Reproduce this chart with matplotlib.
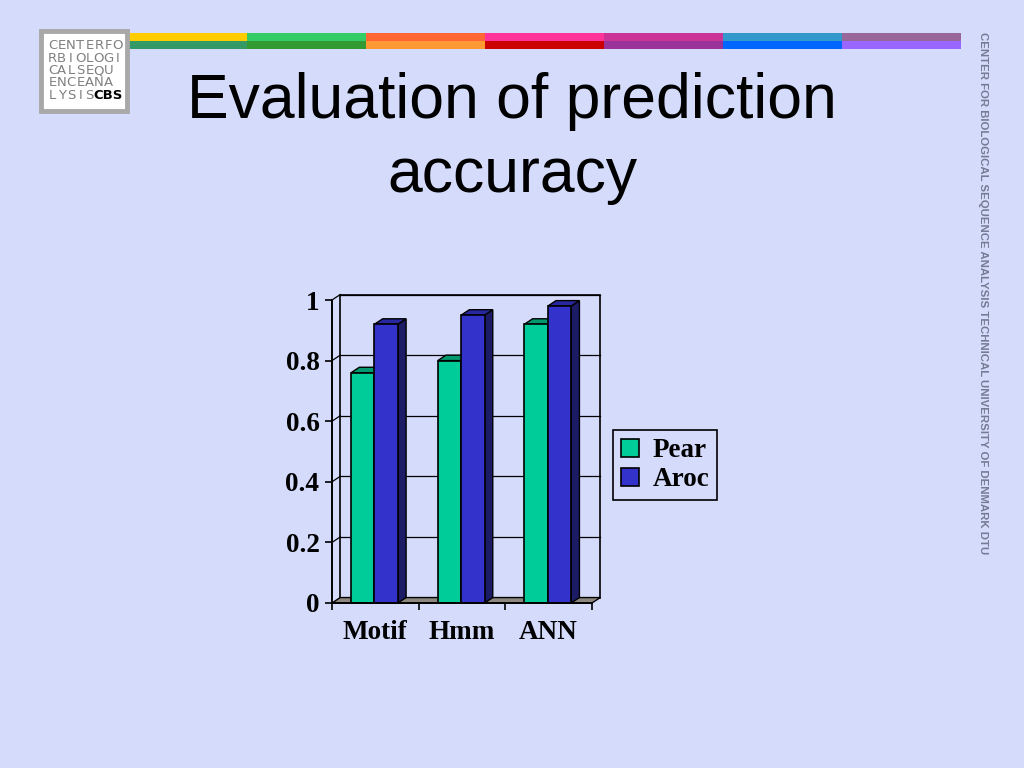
import matplotlib
matplotlib.use("Agg")
import matplotlib.pyplot as plt
from matplotlib.patches import Rectangle, Polygon, Patch

# ---- data ----
categories = ["Motif", "Hmm", "ANN"]
pear = [0.76, 0.80, 0.92]
aroc = [0.92, 0.95, 0.98]
series_names = ["Pear", "Aroc"]
yticks = [0, 0.2, 0.4, 0.6, 0.8, 1]
ytick_labels = ["0", "0.2", "0.4", "0.6", "0.8", "1"]
title_lines = ["Evaluation of prediction", "accuracy"]
side_text = "CENTER FOR BIOLOGICAL SEQUENCE ANALYSIS TECHNICAL UNIVERSITY OF DENMARK DTU"
logo_lines = ["CENTERFO", "RBIOLOGI", "CALSEQU", "ENCEANA", "LYSIS"]
stripe_top = ["#FFCC00", "#33CC66", "#FF6633", "#FF3399", "#CC3399", "#3399CC", "#996699"]
stripe_bot = ["#339966", "#339933", "#FF9933", "#CC0000", "#993399", "#0066FF", "#9966FF"]

BG = "#D5DBFB"
W, H = 1024, 768
fig = plt.figure(figsize=(W / 100, H / 100), dpi=100, facecolor=BG)

# background/decoration axes in pixel coordinates
bg = fig.add_axes([0, 0, 1, 1])
bg.set_xlim(0, W)
bg.set_ylim(H, 0)
bg.axis("off")

# colour stripes
x0, seg = 128, 119
for i, (ct, cb) in enumerate(zip(stripe_top, stripe_bot)):
    bg.add_patch(Rectangle((x0 + i * seg, 33), seg, 7.5, facecolor=ct, edgecolor="none"))
    bg.add_patch(Rectangle((x0 + i * seg, 40.5), seg, 8, facecolor=cb, edgecolor="none"))

# logo
bg.add_patch(Rectangle((41, 31), 86, 80, facecolor="white", edgecolor="#A8A8A8", lw=3.5))
ys = [45.5, 58, 70.5, 83, 95.5]
for line, yy in zip(logo_lines, ys):
    for k, ch in enumerate(line):
        bg.text(52.5 + k * 9.3, yy, ch, fontsize=9.5, family="DejaVu Sans", color="#808080",
                va="center", ha="center")
bg.text(108, 95.5, "CBS", fontsize=9.5, family="DejaVu Sans", weight="bold", color="black",
        va="center", ha="center")

# title
bg.text(512, 118, title_lines[0], fontsize=45, family="Liberation Sans", color="black",
        ha="center", va="baseline")
bg.text(512, 192, title_lines[1], fontsize=45, family="Liberation Sans", color="black",
        ha="center", va="baseline")

# side text
bg.text(983, 32, side_text, fontsize=8.2, family="Liberation Sans", weight="bold",
        color="#767B94", rotation=-90, ha="center", va="top")

# ---- chart axes ----
ax = fig.add_axes([332 / W, 1 - 603 / H, 260 / W, 303 / H])
ax.set_xlim(0, 3)
ax.set_ylim(0, 1)
ax.patch.set_alpha(0)
for s in ax.spines.values():
    s.set_visible(False)

dx, dy = 0.095, 0.018
n = len(categories)

# back wall
ax.add_patch(Rectangle((dx, dy), n, 1, facecolor=BG, edgecolor="black", lw=1.2,
                       clip_on=False, zorder=1))
# gridlines on back wall + left wall diagonals
for v in yticks[1:]:
    ax.plot([dx, n + dx], [v + dy, v + dy], color="black", lw=0.9, clip_on=False, zorder=1.5)
    ax.plot([0, dx], [v, v + dy], color="black", lw=0.9, clip_on=False, zorder=1.5)
# floor
ax.add_patch(Polygon([(0, 0), (n, 0), (n + dx, dy), (dx, dy)], closed=True,
                     facecolor="#8C8880", edgecolor="black", lw=1.0, clip_on=False, zorder=2))
# front axes lines
ax.plot([0, 0], [0, 1], color="black", lw=1.4, clip_on=False, zorder=6)
ax.plot([0, n], [0, 0], color="black", lw=1.4, clip_on=False, zorder=6)

bw = 0.27
colors = {"Pear": ("#00CC99", "#009970", "#006B50"), "Aroc": ("#3333CC", "#2727A0", "#1C1C66")}
for i in range(n):
    for name, vals, off in (("Pear", pear, 0.22), ("Aroc", aroc, 0.49)):
        v = vals[i]
        front, top, side = colors[name]
        xl = i + off
        xr = xl + bw
        ax.add_patch(Polygon([(xr, 0), (xr + dx, dy), (xr + dx, v + dy), (xr, v)], closed=True,
                             facecolor=side, edgecolor="black", lw=1.0, clip_on=False, zorder=3 + i * 0.1 + off))
        ax.add_patch(Polygon([(xl, v), (xl + dx, v + dy), (xr + dx, v + dy), (xr, v)], closed=True,
                             facecolor=top, edgecolor="black", lw=1.0, clip_on=False, zorder=3 + i * 0.1 + off))
        ax.bar([xl], [v], width=bw, align="edge", color=front, edgecolor="black", lw=1.2,
               zorder=3.01 + i * 0.1 + off, clip_on=False)

# ticks
FS = 19.5
ax.set_yticks(yticks)
ax.set_yticklabels(ytick_labels, fontsize=FS, family="Liberation Serif", weight="bold")
ax.tick_params(axis="y", direction="out", length=5, width=1.2, pad=4)
ax.set_xticks(range(n + 1))
ax.set_xticklabels([""] * (n + 1))
ax.tick_params(axis="x", which="major", direction="out", length=5, width=1.2)
ax.set_xticks([i + 0.5 for i in range(n)], minor=True)
ax.set_xticklabels(categories, minor=True, fontsize=FS, family="Liberation Serif", weight="bold")
ax.tick_params(axis="x", which="minor", length=0, pad=12)

# legend
handles = [Patch(facecolor=colors[nm][0], edgecolor="black", lw=1.2) for nm in series_names]
leg = fig.legend(handles, series_names, loc="upper left", bbox_to_anchor=(613 / W, 1 - 430 / H),
                 prop={"family": "Liberation Serif", "weight": "bold", "size": FS},
                 frameon=True, fancybox=False, edgecolor="black", facecolor=BG, framealpha=1,
                 handlelength=0.65, handleheight=0.65, handletextpad=0.5, borderpad=0.3,
                 labelspacing=0.15, borderaxespad=0)
leg.get_frame().set_linewidth(1.2)

fig.savefig("out.png", dpi=100, facecolor=BG)
